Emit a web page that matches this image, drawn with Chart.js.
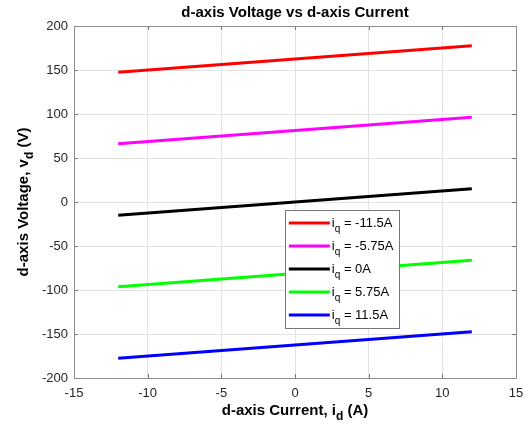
<!DOCTYPE html>
<html>
<head>
<meta charset="utf-8">
<script src="https://cdn.jsdelivr.net/npm/chart.js@4.4.0/dist/chart.umd.min.js"></script>
<style>
  html, body { margin: 0; padding: 0; background: #fff; }
  #wrap { width: 528px; height: 426px; }
</style>
</head>
<body>
<div id="wrap"><canvas id="vdChart" width="528" height="426"></canvas></div>
<script>
// d-axis current at the two ends of every line (A)
var currentEnds = [-12, 12];

// iq values for the legend
var iqLabels = ['-11.5', '-5.75', '0', '5.75', '11.5'];

// d-axis voltage at the ends (V), one array per iq
var vIqNeg115 = [147.5, 177.5];
var vIqNeg575 = [66.25, 96.25];
var vIqZero = [-15, 15];
var vIqPos575 = [-96.25, -66.25];
var vIqPos115 = [-177.5, -147.5];

var xTicks = [-15, -10, -5, 0, 5, 10, 15];
var yTicks = [-200, -150, -100, -50, 0, 50, 100, 150, 200];

var coresLinhas = ['#ff0000', '#ff00ff', '#000000', '#00ff00', '#0000ff'];
var fonte = '"Liberation Sans", Arial, sans-serif';

function montaPontos(valores) {
    return currentEnds.map(function (x, i) {
        return { x: x, y: valores[i] };
    });
}

var series = [vIqNeg115, vIqNeg575, vIqZero, vIqPos575, vIqPos115];

var dataVd = {
    datasets: series.map(function (s, i) {
        return {
            label: 'iq = ' + iqLabels[i] + 'A',
            data: montaPontos(s),
            borderColor: coresLinhas[i],
            backgroundColor: coresLinhas[i],
            borderWidth: 3,
            pointRadius: 0,
            showLine: true,
            fill: false
        };
    })
};

// escreve texto com subscrito: partes = [{t: 'i'}, {t: 'q', sub: true}, ...]
function larguraRica(ctx, partes, tam, peso) {
    var w = 0;
    partes.forEach(function (p) {
        ctx.font = peso + ' ' + (p.sub ? tam - 3 : tam) + 'px ' + fonte;
        w += ctx.measureText(p.t).width;
    });
    return w;
}

function escreveRico(ctx, partes, x, y, tam, peso) {
    var cx = x;
    ctx.textAlign = 'left';
    ctx.textBaseline = 'middle';
    partes.forEach(function (p) {
        ctx.font = peso + ' ' + (p.sub ? tam - 3 : tam) + 'px ' + fonte;
        ctx.fillText(p.t, cx, p.sub ? y + 6 : y);
        cx += ctx.measureText(p.t).width;
    });
}

var pluginMatlab = {
    id: 'pluginMatlab',
    afterDatasetsDraw: function (chart) {
        var ctx = chart.ctx;
        var a = chart.chartArea;
        var sx = chart.scales.x;
        var sy = chart.scales.y;
        ctx.save();

        // marcas de escala para dentro
        ctx.strokeStyle = '#777';
        ctx.lineWidth = 1;
        ctx.beginPath();
        xTicks.forEach(function (v) {
            var px = Math.round(sx.getPixelForValue(v)) + 0.5;
            ctx.moveTo(px, a.top); ctx.lineTo(px, a.top + 4);
            ctx.moveTo(px, a.bottom); ctx.lineTo(px, a.bottom - 4);
        });
        yTicks.forEach(function (v) {
            var py = Math.round(sy.getPixelForValue(v)) + 0.5;
            ctx.moveTo(a.left, py); ctx.lineTo(a.left + 4, py);
            ctx.moveTo(a.right, py); ctx.lineTo(a.right - 4, py);
        });
        ctx.stroke();

        // caixa do grafico
        ctx.strokeStyle = '#8c8c8c';
        ctx.strokeRect(Math.round(a.left) + 0.5, Math.round(a.top) + 0.5,
            Math.round(a.right - a.left), Math.round(a.bottom - a.top));

        // legenda
        var lx = a.left + (a.right - a.left) * 0.477;
        var ly = a.top + (a.bottom - a.top) * 0.523;
        var lw = 114, lh = 118;
        ctx.fillStyle = '#fff';
        ctx.fillRect(lx, ly, lw, lh);
        ctx.strokeStyle = '#777';
        ctx.strokeRect(Math.round(lx) + 0.5, Math.round(ly) + 0.5, lw, lh);
        chart.data.datasets.forEach(function (ds, i) {
            var yy = ly + 13 + i * 23;
            ctx.strokeStyle = ds.borderColor;
            ctx.lineWidth = 3;
            ctx.beginPath();
            ctx.moveTo(lx + 4, yy); ctx.lineTo(lx + 45, yy);
            ctx.stroke();
            ctx.fillStyle = '#000';
            escreveRico(ctx, [{ t: 'i' }, { t: 'q', sub: true }, { t: ' = ' + iqLabels[i] + 'A' }],
                lx + 47, yy, 13, 'normal');
        });

        ctx.fillStyle = '#000';
        // titulo
        ctx.font = 'bold 15px ' + fonte;
        ctx.textAlign = 'center';
        ctx.textBaseline = 'middle';
        ctx.fillText('d-axis Voltage vs d-axis Current', (a.left + a.right) / 2, 13);

        // titulo do eixo x
        var px = [{ t: 'd-axis Current, i' }, { t: 'd', sub: true }, { t: ' (A)' }];
        var wx = larguraRica(ctx, px, 15, 'bold');
        escreveRico(ctx, px, (a.left + a.right) / 2 - wx / 2, 411, 15, 'bold');

        // titulo do eixo y
        var py = [{ t: 'd-axis Voltage, v' }, { t: 'd', sub: true }, { t: ' (V)' }];
        var wy = larguraRica(ctx, py, 15, 'bold');
        ctx.translate(24, (a.top + a.bottom) / 2);
        ctx.rotate(-Math.PI / 2);
        escreveRico(ctx, py, -wy / 2, 0, 15, 'bold');

        ctx.restore();
    }
};

var optionsVd = {
    responsive: false,
    animation: false,
    layout: {
        padding: { top: 26, right: 12, left: 0, bottom: 0 }
    },
    scales: {
        x: {
            type: 'linear',
            min: -15,
            max: 15,
            afterFit: function (scale) {
                scale.height = 48;
                scale.paddingLeft = 0;
                scale.paddingRight = 0;
            },
            afterBuildTicks: function (scale) {
                scale.ticks = xTicks.map(function (v) { return { value: v }; });
            },
            grid: { color: '#e3e3e3', drawTicks: false },
            border: { display: false },
            ticks: {
                padding: 8,
                color: '#262626',
                font: { family: fonte, size: 13 },
                maxRotation: 0
            }
        },
        y: {
            type: 'linear',
            min: -200,
            max: 200,
            afterFit: function (scale) {
                scale.width = 74;
                scale.paddingTop = 0;
                scale.paddingBottom = 0;
            },
            afterBuildTicks: function (scale) {
                scale.ticks = yTicks.map(function (v) { return { value: v }; });
            },
            grid: { color: '#e3e3e3', drawTicks: false },
            border: { display: false },
            ticks: {
                padding: 6,
                color: '#262626',
                font: { family: fonte, size: 13 }
            }
        }
    },
    plugins: {
        legend: { display: false },
        title: { display: false },
        tooltip: { enabled: false }
    }
};

var ctxVd = document.getElementById('vdChart').getContext('2d');

var graficoVd = new Chart(ctxVd, {
    type: 'scatter',
    data: dataVd,
    options: optionsVd,
    plugins: [pluginMatlab]
});
</script>
</body>
</html>
